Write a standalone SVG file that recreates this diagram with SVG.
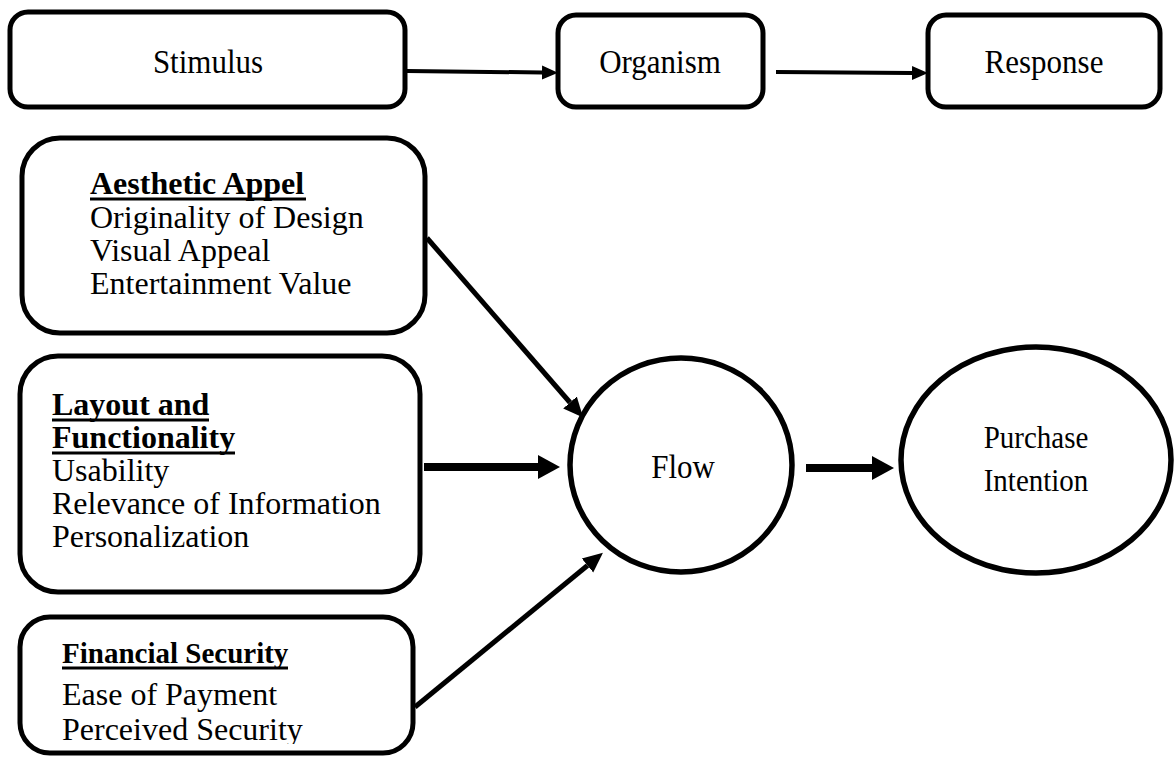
<svg xmlns="http://www.w3.org/2000/svg" width="1176" height="758" viewBox="0 0 1176 758">
  <style>
    .box { fill: #ffffff; stroke: #000000; stroke-width: 5; }
    .oval { fill: #ffffff; stroke: #000000; stroke-width: 5.5; }
    .label { font-family: "Liberation Serif", "Times New Roman", serif; fill: #000000; }
    .title { font-size: 31px; text-anchor: middle; }
    .item { font-size: 32px; }
    .head { font-size: 32px; font-weight: bold; }
    .ul { stroke: #000000; stroke-width: 3; }
    .thin { fill: none; stroke: #000000; stroke-width: 4; }
    .thick { fill: none; stroke: #000000; stroke-width: 5; }
    .heavy { fill: none; stroke: #000000; stroke-width: 8; }
  </style>
  <defs>
    <marker id="head-small" markerUnits="userSpaceOnUse" markerWidth="18" markerHeight="16" refX="0" refY="8" orient="auto">
      <path d="M0,1 L16,8 L0,15 Z" fill="#000000"/>
    </marker>
    <marker id="head-mid" markerUnits="userSpaceOnUse" markerWidth="22" markerHeight="20" refX="0" refY="10" orient="auto">
      <path d="M0,1 L20,10 L0,19 Z" fill="#000000"/>
    </marker>
    <marker id="head-large" markerUnits="userSpaceOnUse" markerWidth="24" markerHeight="26" refX="0" refY="13" orient="auto">
      <path d="M0,1 L22,13 L0,25 Z" fill="#000000"/>
    </marker>
    <clipPath id="fin-clip">
      <rect x="0" y="600" width="440" height="144"/>
    </clipPath>
  </defs>

  <rect width="1176" height="758" fill="#ffffff"/>

  <!-- connectors -->
  <g id="connectors">
    <path class="thin" d="M407,71 L542,72.5" marker-end="url(#head-small)"/>
    <path class="thin" d="M776,72 L912,73" marker-end="url(#head-small)"/>
    <path class="thick" d="M427,238 L570,402.5" marker-end="url(#head-mid)"/>
    <path class="heavy" d="M424,467 L538,467" marker-end="url(#head-large)"/>
    <path class="thick" d="M415,707 L587.5,565.5" marker-end="url(#head-mid)"/>
    <path class="heavy" d="M806,468 L872,468" marker-end="url(#head-large)"/>
  </g>

  <!-- S-O-R header row -->
  <g id="stimulus">
    <rect class="box" x="10" y="12" width="395" height="95" rx="18"/>
    <text class="label title" transform="translate(208,73) scale(1,1.12)">Stimulus</text>
  </g>
  <g id="organism">
    <rect class="box" x="558" y="15" width="205" height="92" rx="18"/>
    <text class="label title" transform="translate(660,73) scale(1,1.12)">Organism</text>
  </g>
  <g id="response">
    <rect class="box" x="928" y="15" width="232" height="92" rx="18"/>
    <text class="label title" transform="translate(1044,73) scale(1,1.12)">Response</text>
  </g>

  <!-- stimulus factor boxes -->
  <g id="aesthetic-appeal">
    <rect class="box" x="22" y="138" width="403" height="195" rx="38"/>
    <text class="label head" x="90" y="194">Aesthetic Appel</text>
    <line class="ul" x1="90" y1="199" x2="306" y2="199"/>
    <text class="label item" x="90" y="228">Originality of Design</text>
    <text class="label item" x="90" y="261">Visual Appeal</text>
    <text class="label item" x="90" y="294">Entertainment Value</text>
  </g>

  <g id="layout-functionality">
    <rect class="box" x="20" y="356" width="400" height="236" rx="38"/>
    <text class="label head" x="52" y="415">Layout and</text>
    <line class="ul" x1="52" y1="420" x2="209" y2="420"/>
    <text class="label head" x="52" y="448">Functionality</text>
    <line class="ul" x1="52" y1="453" x2="235" y2="453"/>
    <text class="label item" x="52" y="481">Usability</text>
    <text class="label item" x="52" y="514">Relevance of Information</text>
    <text class="label item" x="52" y="547">Personalization</text>
  </g>

  <g id="financial-security">
    <rect class="box" x="20" y="617" width="393" height="136" rx="30"/>
    <g clip-path="url(#fin-clip)">
      <text class="label" x="62" y="663" font-size="29" font-weight="bold">Financial Security</text>
      <line class="ul" x1="62" y1="668" x2="288" y2="668"/>
      <text class="label item" x="62" y="705">Ease of Payment</text>
      <text class="label item" x="62" y="740">Perceived Security</text>
    </g>
  </g>

  <!-- organism and response constructs -->
  <g id="flow">
    <ellipse class="oval" cx="681" cy="465" rx="111" ry="107"/>
    <text class="label title" transform="translate(683,478) scale(1,1.12)">Flow</text>
  </g>
  <g id="purchase-intention">
    <ellipse class="oval" cx="1036" cy="460" rx="135" ry="113"/>
    <text class="label" font-size="29" text-anchor="middle" transform="translate(1036,448) scale(1,1.12)">Purchase</text>
    <text class="label" font-size="29" text-anchor="middle" transform="translate(1036,491) scale(1,1.12)">Intention</text>
  </g>
</svg>
